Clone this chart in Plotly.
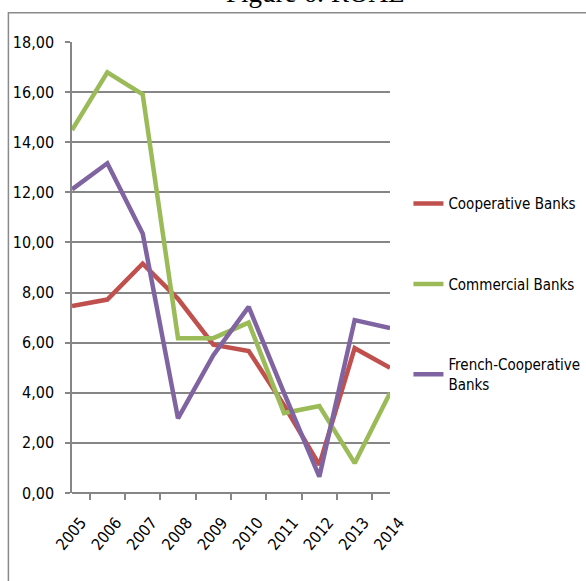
import plotly.graph_objects as go

years = ["2005", "2006", "2007", "2008", "2009", "2010", "2011", "2012", "2013", "2014"]
cooperative = [7.46, 7.72, 9.15, 7.75, 5.92, 5.67, 3.50, 1.12, 5.78, 5.00]
commercial = [14.49, 16.79, 15.91, 6.18, 6.18, 6.80, 3.19, 3.47, 1.19, 3.99]
french_coop = [12.12, 13.16, 10.36, 2.98, 5.50, 7.43, 4.00, 0.65, 6.90, 6.58]

series = [
    ("Cooperative Banks", cooperative, "#C0504D"),
    ("Commercial Banks", commercial, "#9BBB59"),
    ("French-Cooperative<br>Banks", french_coop, "#8064A2"),
]

FAMILY = "DejaVu Sans Condensed, Liberation Sans Narrow, sans-serif"
label_font = dict(family=FAMILY, size=15, color="#000000")
ytick_font = dict(family=FAMILY, size=16, color="#000000")
xtick_font = dict(family=FAMILY, size=16, color="#000000")

fig = go.Figure()
for i, (name, vals, color) in enumerate(series):
    fig.add_trace(go.Scatter(
        x=years, y=vals, name=name, mode="lines",
        line=dict(color=color, width=4.5),
        legendgroup=f"g{i}",
    ))

fig.update_layout(
    width=586, height=581,
    margin=dict(l=72, r=196, t=42, b=88, autoexpand=False),
    paper_bgcolor="white", plot_bgcolor="white",
    separators=", ",
    font=label_font,
    legend=dict(
        x=1.058, y=0.678, xanchor="left", yanchor="top",
        font=label_font, tracegroupgap=58,
        bgcolor="rgba(0,0,0,0)",
    ),
    xaxis=dict(
        type="category", tickangle=-50, tickson="boundaries",
        ticks="outside", ticklen=6, tickcolor="#868686", tickwidth=1.5,
        showline=False, showgrid=False, tickfont=xtick_font,
        ticklabelstandoff=16, ticklabelshift=9, automargin=False,
    ),
    yaxis=dict(
        range=[0, 18], dtick=2, tickformat=".2f",
        ticks="outside", ticklen=5, tickcolor="#868686", tickwidth=1.5,
        showgrid=True, gridcolor="#868686", gridwidth=1.5,
        showline=True, linecolor="#868686", linewidth=1.5,
        zeroline=True, zerolinecolor="#868686", zerolinewidth=1.5,
        tickfont=ytick_font, ticklabelstandoff=8, automargin=False,
    ),
    shapes=[dict(
        type="rect", xref="paper", yref="paper",
        x0=-0.2, x1=1.8, y0=-0.3, y1=1.065,
        line=dict(color="#8a8a8a", width=1.5), fillcolor="rgba(0,0,0,0)",
        layer="below",
    )],
    annotations=[dict(
        text="Figure 6: ROAE", xref="paper", yref="paper",
        x=0.765, y=1.07, xanchor="center", yanchor="bottom",
        showarrow=False,
        font=dict(family="Liberation Serif, Times New Roman, serif", size=27, color="#000000"),
    )],
)

fig.write_html("out.html")
